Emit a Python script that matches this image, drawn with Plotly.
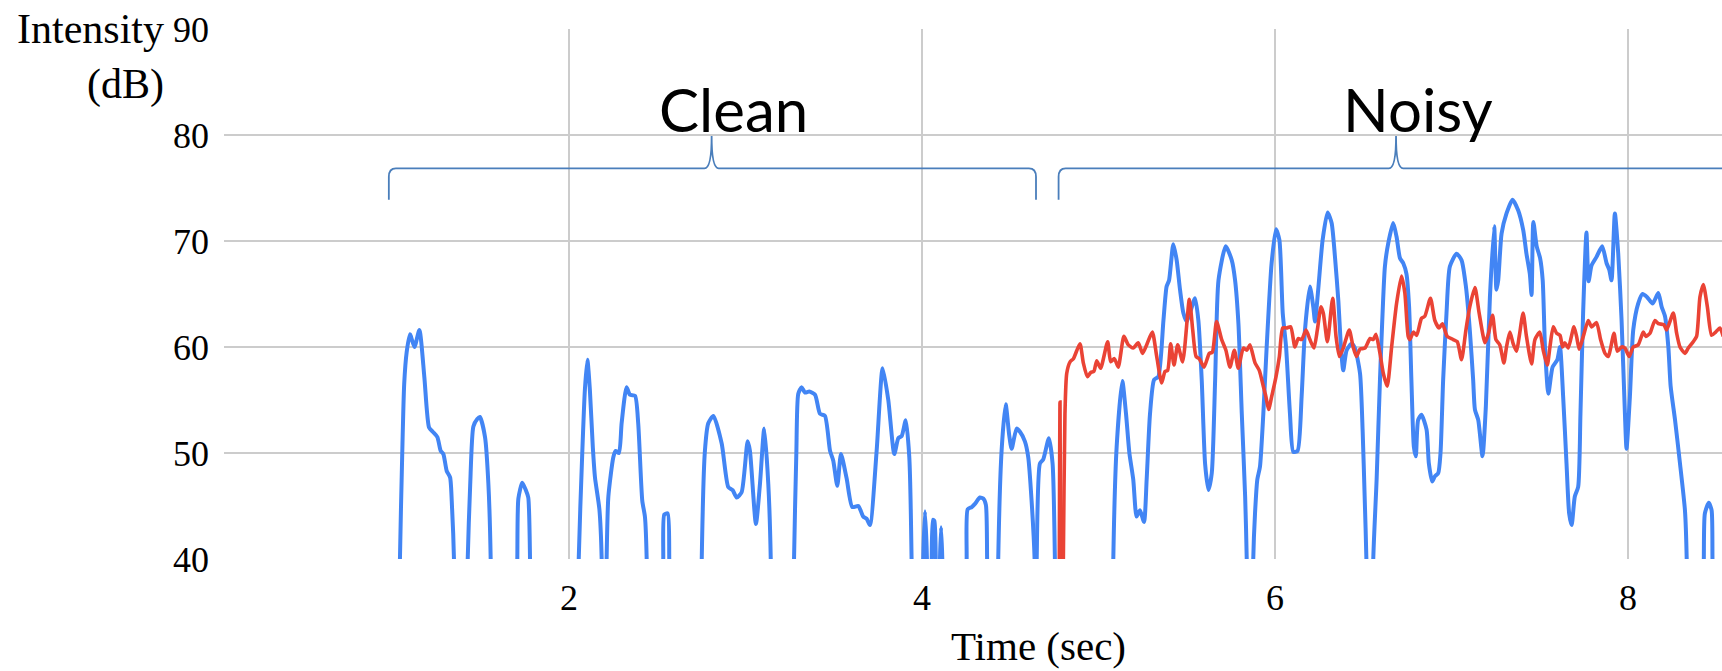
import plotly.graph_objects as go

# ---------------- data ----------------
LOW = 30  # below the visible axis (signal drops out of range)

blue_t = [
    1.038, 1.042, 1.055, 1.066, 1.080, 1.099, 1.124, 1.152, 1.180, 1.207, 1.228, 1.254, 1.273, 1.288, 1.307, 1.326, 1.337, 1.348, 1.352, None,
    1.422, 1.426, 1.440, 1.458, 1.480, 1.495, 1.524, 1.543, 1.556, 1.560, None,
    1.703, 1.707, 1.713, 1.735, 1.755, 1.769, 1.779, 1.783, None,
    2.051, 2.055, 2.075, 2.090, 2.104, 2.118, 2.135, 2.147, 2.172, 2.185, 2.189, None,
    2.209, 2.213, 2.223, 2.251, 2.264, 2.283, 2.298, 2.326, 2.345, 2.374, 2.392, 2.415, 2.430, 2.440, 2.444, None,
    2.530, 2.534, 2.540, 2.559, 2.568, 2.572, None,
    2.748, 2.752, 2.770, 2.789, 2.818, 2.865, 2.902, 2.927, 2.950, 2.978, 3.012, 3.025, 3.059, 3.082, 3.106, 3.129, 3.143, 3.147, None,
    3.271, 3.275, 3.288, 3.299, 3.318, 3.337, 3.361, 3.394, 3.422, 3.450, 3.479, 3.497, 3.520, 3.541, 3.573, 3.605, 3.639, 3.667, 3.686, 3.705, 3.743, 3.777, 3.809, 3.843, 3.866, 3.885, 3.908, 3.928, 3.941, 3.945, None,
    4.003, 4.007, 4.017, 4.028, 4.032, None,
    4.051, 4.055, 4.062, 4.070, 4.078, 4.082, None,
    4.098, 4.102, 4.108, 4.115, 4.119, None,
    4.249, 4.253, 4.259, 4.282, 4.300, 4.328, 4.347, 4.362, 4.369, 4.373, None,
    4.428, 4.432, 4.451, 4.474, 4.494, 4.508, 4.536, 4.555, 4.583, 4.602, 4.621, 4.638, 4.641, None,
    4.646, 4.650, 4.668, 4.687, 4.719, 4.740, 4.753, 4.757, None,
    5.080, 5.084, 5.103, 5.135, 5.156, 5.175, 5.197, 5.216, 5.235, 5.258, 5.273, 5.292, 5.315, 5.339, 5.368, 5.386, 5.400, 5.424, 5.443, 5.462, 5.481, 5.500, 5.518, 5.547, 5.566, 5.585, 5.604, 5.623, 5.642, 5.661, 5.680, 5.721, 5.755, 5.774, 5.793, 5.812, 5.831, 5.840, 5.844, None,
    5.873, 5.877, 5.887, 5.900, 5.915, 5.934, 5.953, 5.981, 6.006, 6.025, 6.044, 6.063, 6.085, 6.104, 6.128, 6.151, 6.170, 6.198, 6.217, 6.227, 6.245, 6.270, 6.298, 6.321, 6.340, 6.359, 6.374, 6.387, 6.406, 6.434, 6.453, 6.482, 6.497, 6.508, 6.518, 6.522, None,
    6.553, 6.557, 6.576, 6.595, 6.623, 6.642, 6.670, 6.689, 6.708, 6.727, 6.745, 6.760, 6.773, 6.787, 6.798, 6.811, 6.830, 6.859, 6.872, 6.891, 6.906, 6.925, 6.938, 6.953, 6.972, 6.991, 7.029, 7.057, 7.082, 7.104, 7.123, 7.133, 7.152, 7.176, 7.195, 7.218, 7.242, 7.255, 7.265, 7.284, 7.312, 7.346, 7.378, 7.407, 7.425, 7.444, 7.454, 7.464, 7.483, 7.502, 7.517, 7.530, 7.549, 7.573, 7.600, 7.615, 7.633, 7.652, 7.667, 7.681, 7.699, 7.718, 7.731, 7.746, 7.765, 7.777, 7.794, 7.822, 7.854, 7.879, 7.894, 7.907, 7.926, 7.945, 7.964, 7.983, 7.992, 8.011, 8.030, 8.058, 8.083, 8.109, 8.140, 8.172, 8.191, 8.210, 8.229, 8.242, 8.267, 8.295, 8.323, 8.333, 8.337, None,
    8.426, 8.430, 8.436, 8.458, 8.474, 8.479, 8.483,
]
blue_db = [
    LOW, 40, 50, 56.5, 59.5, 61.2, 60.0, 61.6, 57.2, 52.4, 52.0, 51.5, 50.2, 49.9, 48.3, 47.7, 44.9, 40, LOW, None,
    LOW, 40, 47, 52.5, 53.2, 53.4, 51.5, 47.1, 40, LOW, None,
    LOW, 40, 45.7, 47.2, 46.5, 45.8, 40, LOW, None,
    LOW, 40, 50, 56, 58.8, 56, 50.5, 47.7, 44.7, 40, LOW, None,
    LOW, 40, 45.9, 49.6, 50.2, 50.0, 52.8, 56.2, 55.5, 55.4, 52.8, 45.5, 44.0, 40, LOW, None,
    LOW, 40, 44.2, 44.3, 40, LOW, None,
    LOW, 40, 50.2, 52.8, 53.5, 50.9, 46.8, 46.5, 45.8, 46.3, 51.1, 50.2, 43.3, 47.1, 52.3, 47.1, 40, LOW, None,
    LOW, 40, 50, 55.6, 56.2, 55.7, 55.8, 55.5, 53.7, 53.5, 50.2, 49.3, 46.9, 49.9, 47.6, 44.9, 45.0, 44.0, 43.8, 43.2, 50.2, 58.0, 55.0, 49.9, 51.4, 51.6, 53.1, 49.6, 40, LOW, None,
    LOW, 40, 44.5, 40, LOW, None,
    LOW, 40, 43.7, 43.6, 40, LOW, None,
    LOW, 40, 43.0, 40, LOW, None,
    LOW, 40, 44.7, 44.9, 45.2, 45.8, 45.7, 45.1, 40, LOW, None,
    LOW, 40, 50.2, 54.6, 51.7, 50.4, 52.3, 52.0, 51.1, 49.6, 45.5, 40, LOW, None,
    LOW, 40, 49.0, 49.4, 51.4, 49.0, 40, LOW, None,
    LOW, 40, 50.6, 56.8, 53.7, 50.0, 47.5, 44.0, 44.6, 43.5, 47.5, 53.7, 56.9, 57.2, 62.5, 65.7, 66.3, 69.7, 68.2, 65.4, 63.2, 62.4, 63.2, 64.6, 62.5, 56.9, 49.0, 46.5, 48.1, 56.9, 66.3, 69.5, 68.2, 66.3, 62.2, 53.7, 45.9, 40, LOW, None,
    LOW, 40, 44.3, 47.5, 48.7, 53.7, 60.0, 67.9, 71.1, 70.1, 63.2, 60.0, 53.7, 50.1, 50.2, 55.3, 61.6, 65.7, 63.8, 62.4, 65.4, 70.1, 72.7, 71.7, 68.5, 64.4, 60.0, 57.8, 59.7, 60.3, 59.9, 57.5, 52.0, 46.0, 40, LOW, None,
    LOW, 40, 47.5, 56.9, 67.6, 69.8, 71.7, 70.4, 68.4, 67.9, 66.9, 63.8, 56.9, 50.6, 49.7, 53.1, 53.6, 52.2, 49.0, 47.3, 47.8, 48.1, 50.0, 56.9, 63.2, 67.6, 68.8, 68.2, 65.7, 61.6, 56.9, 54.1, 53.1, 49.7, 54.4, 64.7, 71.4, 65.4, 66.3, 70.7, 72.6, 73.9, 72.9, 71.0, 68.8, 66.9, 64.9, 71.8, 69.5, 68.4, 66.3, 60.0, 55.6, 58.1, 58.8, 60.0, 55.3, 49.0, 44.3, 43.2, 45.9, 46.8, 53.7, 63.2, 70.8, 66.2, 67.7, 68.5, 69.5, 67.9, 67.3, 66.3, 72.6, 68.8, 62.5, 53.7, 50.4, 55.3, 61.6, 64.1, 65.0, 64.7, 64.1, 65.1, 63.8, 62.9, 60.0, 56.3, 53.1, 49.0, 44.6, 40, LOW, None,
    LOW, 40, 44.3, 45.3, 44.6, 40, LOW,
]

red_t = [
    4.776, 4.782, 4.788, None,
    4.795, 4.801, 4.810, 4.820, 4.839, 4.858, 4.895, 4.914, 4.937, 4.956, 4.974, 4.990, 5.012, 5.052, 5.069, 5.090, 5.112, 5.144, 5.169, 5.197, 5.225, 5.250, 5.273, 5.305, 5.330, 5.358, 5.377, 5.392, 5.409, 5.428, 5.449, 5.477, 5.515, 5.534, 5.553, 5.571, 5.598, 5.628, 5.645, 5.669, 5.698, 5.722, 5.745, 5.770, 5.792, 5.821, 5.840, 5.858, 5.887, 5.911, 5.934, 5.949, 5.964, 5.981, 6.006, 6.025, 6.044, 6.066, 6.089, 6.113, 6.132, 6.151, 6.176, 6.198, 6.221, 6.240, 6.261, 6.274, 6.297, 6.327, 6.346, 6.365, 6.387, 6.421, 6.443, 6.462, 6.482, 6.510, 6.539, 6.557, 6.572, 6.595, 6.614, 6.636, 6.661, 6.689, 6.717, 6.736, 6.755, 6.765, 6.784, 6.803, 6.830, 6.849, 6.881, 6.906, 6.930, 6.949, 6.976, 7.010, 7.033, 7.057, 7.082, 7.104, 7.133, 7.157, 7.190, 7.210, 7.233, 7.252, 7.274, 7.297, 7.312, 7.331, 7.350, 7.369, 7.384, 7.406, 7.425, 7.454, 7.473, 7.501, 7.520, 7.543, 7.558, 7.577, 7.596, 7.615, 7.630, 7.643, 7.662, 7.694, 7.709, 7.724, 7.747, 7.775, 7.794, 7.822, 7.845, 7.870, 7.889, 7.902, 7.921, 7.940, 7.964, 7.983, 8.007, 8.030, 8.058, 8.087, 8.102, 8.125, 8.153, 8.172, 8.204, 8.219, 8.257, 8.276, 8.295, 8.323, 8.342, 8.370, 8.389, 8.408, 8.427, 8.450, 8.474, 8.497, 8.521, 8.540,
]
red_db = [
    LOW, 54.8, LOW, None,
    LOW, 40, 53.7, 57.5, 58.6, 58.9, 60.3, 58.5, 57.2, 57.6, 57.7, 58.7, 58.0, 60.5, 58.6, 58.9, 58.1, 61.0, 60.2, 59.9, 60.4, 59.4, 60.2, 61.4, 59.1, 56.6, 57.7, 57.8, 60.3, 58.3, 60.2, 58.6, 64.5, 61.6, 59.1, 58.9, 58.1, 59.4, 59.5, 62.4, 60.7, 59.7, 58.1, 59.7, 58.0, 59.9, 59.7, 60.2, 58.5, 57.8, 56.3, 55.3, 54.1, 55.3, 57.2, 59.1, 61.8, 61.8, 61.9, 60.0, 60.8, 60.7, 61.6, 60.7, 59.9, 61.6, 63.8, 63.2, 60.5, 64.6, 61.0, 59.1, 59.9, 61.6, 60.0, 59.1, 59.8, 59.9, 60.8, 60.7, 61.2, 59.4, 57.5, 56.3, 60.0, 64.1, 66.7, 65.1, 61.0, 60.7, 61.4, 61.1, 62.7, 62.9, 64.6, 62.5, 61.8, 62.2, 61.0, 60.7, 60.5, 58.8, 61.6, 63.8, 65.6, 63.2, 60.4, 61.3, 63.0, 60.7, 60.2, 58.5, 60.0, 61.4, 60.3, 59.6, 61.0, 63.2, 61.0, 58.4, 60.7, 61.4, 59.7, 58.3, 60.0, 61.9, 61.3, 61.1, 60.0, 60.4, 59.9, 61.9, 61.0, 59.8, 61.0, 62.5, 61.9, 62.3, 60.7, 59.4, 59.1, 59.9, 61.3, 59.6, 60.0, 59.9, 59.1, 60.0, 60.2, 61.4, 61.0, 61.3, 62.5, 62.2, 62.1, 61.6, 63.2, 61.3, 60.0, 59.4, 59.9, 60.5, 61.0, 64.7, 65.9, 63.8, 61.1, 61.4, 61.8, 61.0,
]

x_ticks = [2, 4, 6, 8]
y_ticks = [40, 50, 60, 70, 80, 90]

bracket_labels = ["Clean", "Noisy"]
bracket_start = [0.979, 4.774]
bracket_mid = [2.808, 6.686]
bracket_end = [4.646, 8.598]
bracket_foot = 73.9   # bottom of the bracket ends (dB)
bracket_bar = 76.85   # horizontal bar (dB)
bracket_tip = 79.9    # central tip (dB)

# ---------------- figure ----------------
BLUE = "#4285F4"
RED = "#EA4335"
BRACKET = "#4A7EBB"

fig = go.Figure()
fig.add_trace(go.Scatter(x=blue_t, y=blue_db, mode="lines",
                         line=dict(color=BLUE, width=4, shape="spline", smoothing=0.6),
                         connectgaps=False, hoverinfo="skip", showlegend=False))
fig.add_trace(go.Scatter(x=red_t, y=red_db, mode="lines",
                         line=dict(color=RED, width=3.6, shape="spline", smoothing=0.6),
                         connectgaps=False, hoverinfo="skip", showlegend=False))

dx = 0.04   # corner size in seconds
dy = 0.8    # corner size in dB
for lab, x0, xm, x1 in zip(bracket_labels, bracket_start, bracket_mid, bracket_end):
    path = (f"M {x0},{bracket_foot} L {x0},{bracket_bar - dy} "
            f"Q {x0},{bracket_bar} {x0 + dx},{bracket_bar} "
            f"L {xm - dx},{bracket_bar} Q {xm},{bracket_bar} {xm},{bracket_tip} "
            f"Q {xm},{bracket_bar} {xm + dx},{bracket_bar} "
            f"L {x1 - dx},{bracket_bar} Q {x1},{bracket_bar} {x1},{bracket_bar - dy} "
            f"L {x1},{bracket_foot}")
    fig.add_shape(type="path", path=path, xref="x", yref="y",
                  line=dict(color=BRACKET, width=1.8), layer="above")
    fig.add_annotation(x=xm, y=82.5, xref="x", yref="y", text=lab, showarrow=False,
                       xshift=22, xanchor="center", yanchor="middle",
                       font=dict(family="Lato", size=60, color="black"))

fig.add_annotation(x=-0.0385, y=0.947, xref="paper", yref="paper",
                   text="Intensity<br>(dB)", showarrow=False, align="right",
                   xanchor="right", yanchor="middle",
                   font=dict(family="Liberation Serif", size=42, color="black"))
fig.add_annotation(x=0.544, y=-0.165, xref="paper", yref="paper",
                   text="Time (sec)", showarrow=False, xanchor="center", yanchor="middle",
                   font=dict(family="Liberation Serif", size=41, color="black"))

fig.update_xaxes(range=[0.045, 8.533], tickmode="array", tickvals=x_ticks,
                 showgrid=True, gridcolor="#cccccc", gridwidth=1.5,
                 zeroline=False, showline=False, ticks="",
                 ticklabelstandoff=14,
                 tickfont=dict(family="Liberation Serif", size=36, color="black"))
fig.update_yaxes(range=[40, 90], tickmode="array", tickvals=y_ticks,
                 showgrid=True, gridcolor="#cccccc", gridwidth=1.5,
                 zeroline=False, showline=False, ticks="",
                 ticklabelstandoff=14,
                 tickfont=dict(family="Liberation Serif", size=36, color="black"))

fig.update_layout(width=1722, height=671,
                  margin=dict(l=224, r=0, t=29, b=112),
                  plot_bgcolor="white", paper_bgcolor="white")

fig.write_html("out.html", config={"displayModeBar": False},
               post_script="document.body.style.margin='0px';document.body.style.overflow='hidden';")
